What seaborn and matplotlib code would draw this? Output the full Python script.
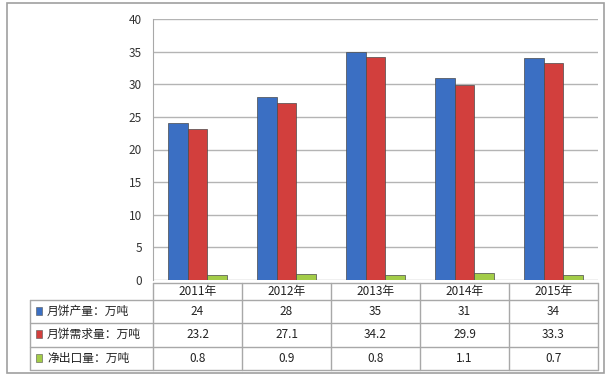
import matplotlib
matplotlib.use('Agg')
import matplotlib.pyplot as plt
import matplotlib.transforms as mtransforms
from matplotlib.patches import Rectangle
import seaborn as sns
import pandas as pd

# data
years = ['2011年', '2012年', '2013年', '2014年', '2015年']
series_names = ['月饼产量：万吨', '月饼需求量：万吨', '净出口量：万吨']
production = [24, 28, 35, 31, 34]
demand = [23.2, 27.1, 34.2, 29.9, 33.3]
net_export = [0.8, 0.9, 0.8, 1.1, 0.7]
shown = [['24', '28', '35', '31', '34'],
         ['23.2', '27.1', '34.2', '29.9', '33.3'],
         ['0.8', '0.9', '0.8', '1.1', '0.7']]
colors = ['#3b6fc3', '#d23f3d', '#a3cc48']

sns.set_style('white')
plt.rcParams['font.family'] = ['Noto Sans CJK SC', 'DejaVu Sans']

df = pd.DataFrame({
    'year': years * 3,
    'series': [series_names[0]] * 5 + [series_names[1]] * 5 + [series_names[2]] * 5,
    'value': production + demand + net_export,
})

W, H = 611, 378
fig = plt.figure(figsize=(W / 100, H / 100), dpi=100)

# outer frame
fig.patches.append(Rectangle((7 / W, 1 - 373 / H), 597 / W, 370 / H, transform=fig.transFigure,
                             fill=False, edgecolor='#a0a0a0', lw=1.2))

# chart area
x0, x1, ytop, ybot = 153, 598, 19, 280
ax = fig.add_axes([x0 / W, 1 - ybot / H, (x1 - x0) / W, (ybot - ytop) / H])
sns.barplot(data=df, x='year', y='value', hue='series', palette=colors, width=0.66,
            saturation=1, edgecolor='#4a4a4a', linewidth=0.5, legend=False, ax=ax)
ax.set_xlim(-0.5, 4.5)
ax.set_ylim(0, 40)
ax.set_yticks(range(0, 41, 5))
ax.set_xticks([])
ax.set_xlabel('')
ax.set_ylabel('')
ax.yaxis.grid(True, color='#b4b4b4', lw=1)
ax.set_axisbelow(True)
for s in ['top', 'right', 'bottom']:
    ax.spines[s].set_visible(False)
ax.spines['left'].set_color('#a8a8a8')
ax.tick_params(axis='y', length=0, pad=8, labelsize=8.5, labelcolor='#333333')

# data table under chart
t0, t1, tl = 283, 370, 30
tab = fig.add_axes([tl / W, 1 - t1 / H, (x1 - tl) / W, (t1 - t0) / H])
tab.set_axis_off()
tab.set_xlim(0, 1)
tab.set_ylim(0, 1)
blend = mtransforms.blended_transform_factory(ax.transData, tab.transAxes)
row_edges = [1.0, 0.8, 0.54, 0.27, 0.0]
lc = '#a8a8a8'
# horizontal lines
tab.plot([-0.5, 4.5], [1.0, 1.0], color=lc, lw=1, transform=blend, clip_on=False)
for yy in row_edges[1:]:
    tab.plot([0, 1], [yy, yy], color=lc, lw=1, clip_on=False)
# vertical lines
tab.plot([0, 0], [0, 0.8], color=lc, lw=1, clip_on=False)
for i in range(6):
    tab.plot([i - 0.5, i - 0.5], [0, 1.0], color=lc, lw=1, transform=blend, clip_on=False)
# header
for i, y in enumerate(years):
    tab.text(i, (row_edges[0] + row_edges[1]) / 2, y, transform=blend, ha='center', va='center',
             fontsize=8.5, color='#222222')
# rows
for r in range(3):
    yc = (row_edges[r + 1] + row_edges[r + 2]) / 2
    tab.add_patch(Rectangle((0.0105, yc - 0.04), 0.011, 0.09, facecolor=colors[r],
                            edgecolor='#555555', lw=0.4, clip_on=False))
    tab.text(0.03, yc, series_names[r], ha='left', va='center', fontsize=8.5, color='#222222')
    for i in range(5):
        tab.text(i, yc, shown[r][i], transform=blend, ha='center', va='center',
                 fontsize=8.5, color='#222222')

fig.savefig('out.png', dpi=100)
